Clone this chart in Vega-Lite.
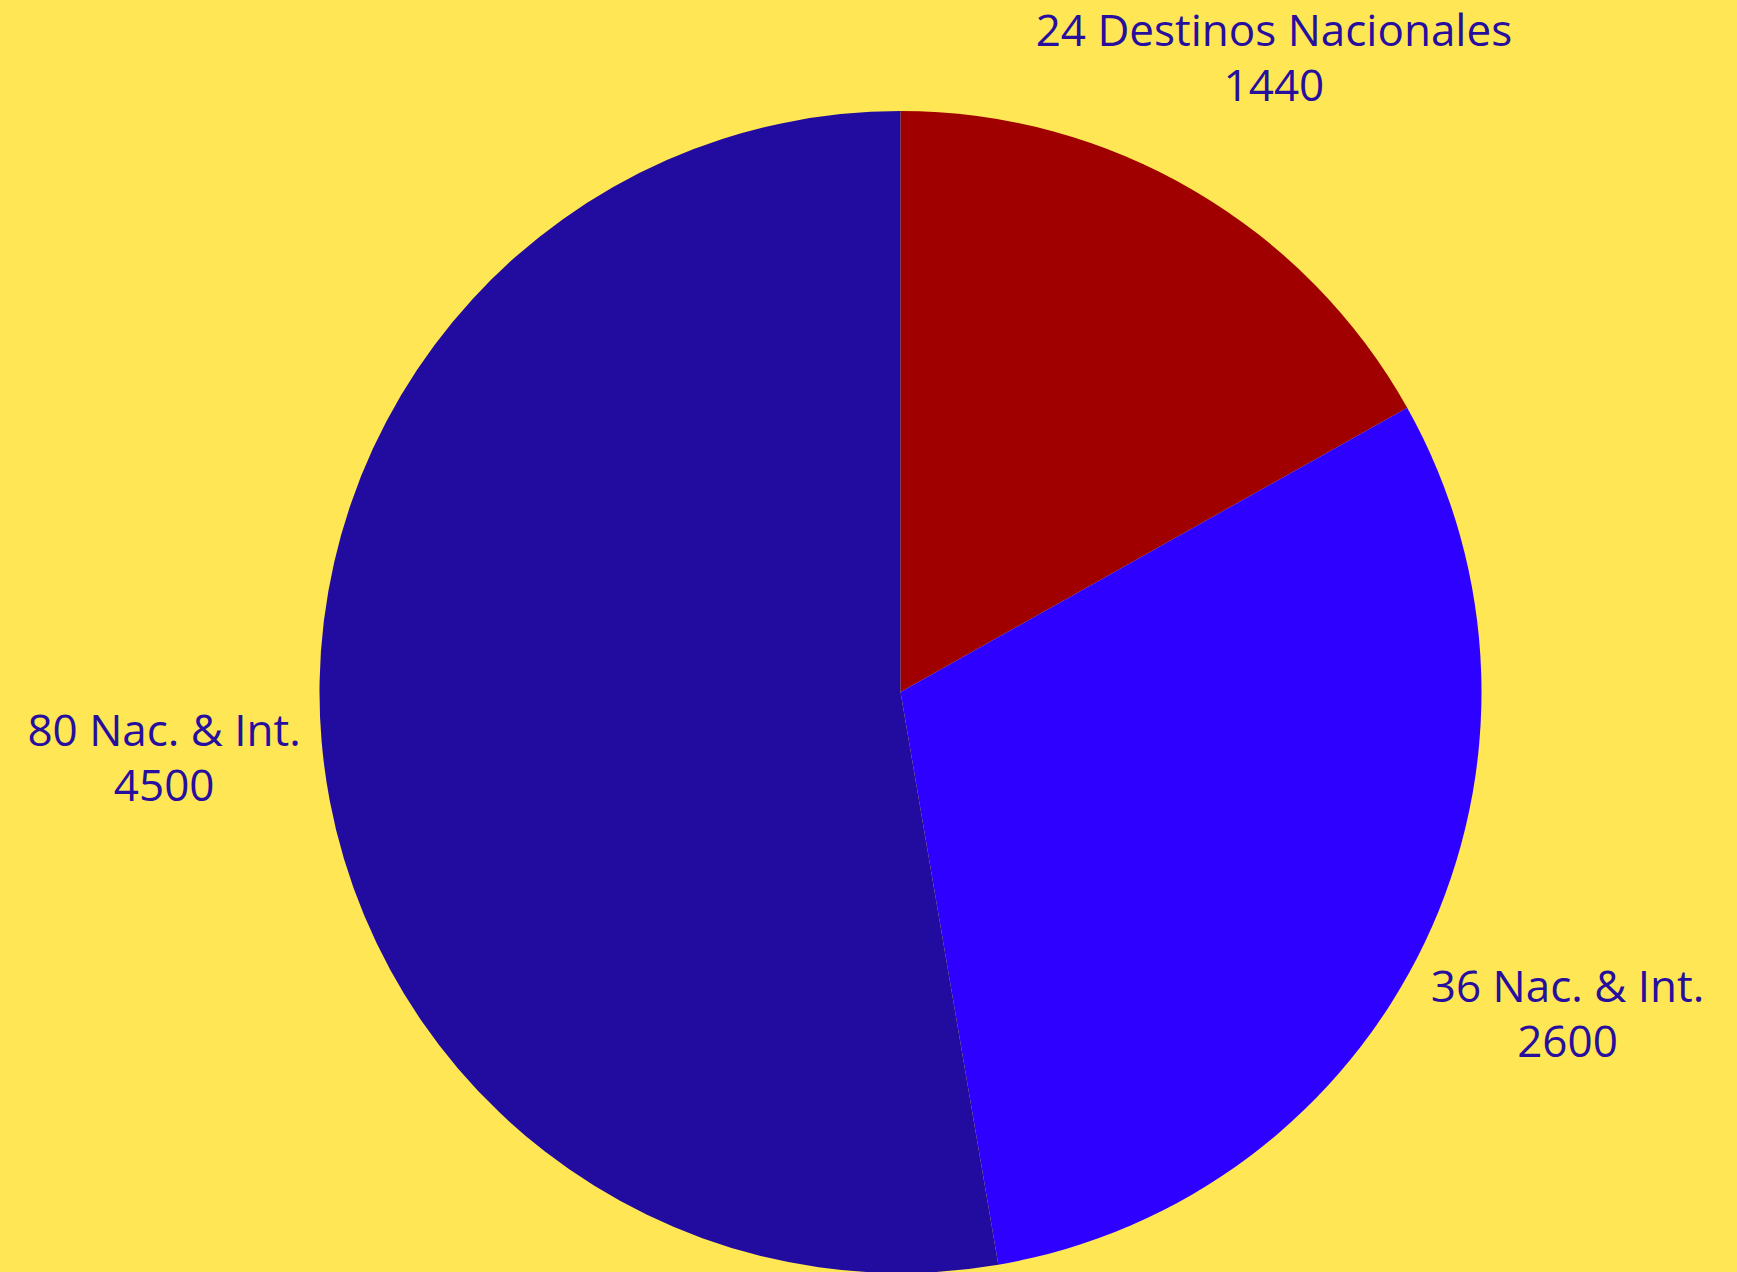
{
  "$schema": "https://vega.github.io/schema/vega-lite/v6.json",
  "autosize": {"type": "none"},
  "width": 1673,
  "height": 1160,
  "padding": {"left": 64, "top": 112, "right": 0, "bottom": 0},
  "background": "#FFE655",
  "config": {"view": {"stroke": null}},
  "data": {
    "values": [
      {"k": 1, "label": "24 Destinos Nacionales\n1440", "value": 1440, "color": "#A00000"},
      {"k": 2, "label": "36 Nac. & Int.\n2600", "value": 2600, "color": "#2E00FF"},
      {"k": 3, "label": "80 Nac. & Int.\n4500", "value": 4500, "color": "#220C9F"}
    ]
  },
  "encoding": {
    "theta": {"field": "value", "type": "quantitative", "stack": true},
    "order": {"field": "k", "type": "quantitative"}
  },
  "layer": [
    {
      "mark": {"type": "arc", "outerRadius": 581},
      "encoding": {
        "color": {"field": "color", "type": "nominal", "scale": null}
      }
    },
    {
      "mark": {
        "type": "text",
        "radius": 739,
        "dy": -21,
        "font": "Open Sans",
        "fontSize": 44,
        "lineHeight": 55,
        "lineBreak": "\n",
        "color": "#260E9E",
        "align": "center",
        "baseline": "middle"
      },
      "encoding": {
        "text": {"field": "label", "type": "nominal"}
      }
    }
  ]
}
